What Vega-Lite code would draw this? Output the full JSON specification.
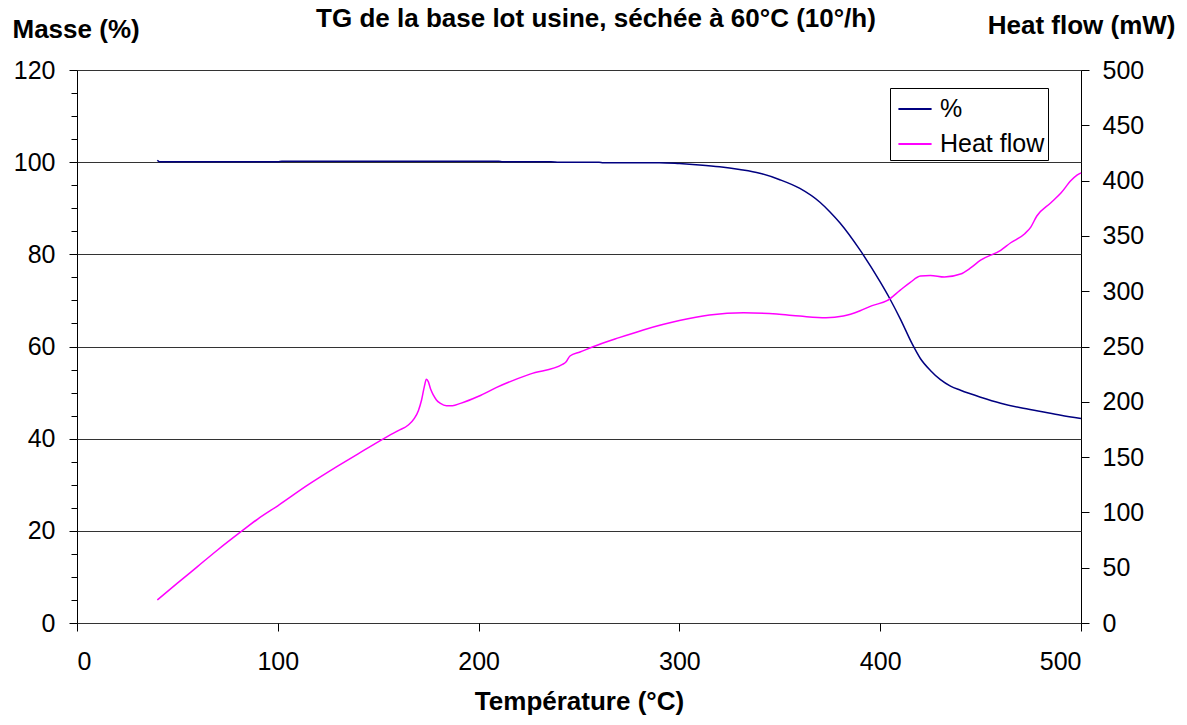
{
  "$schema": "https://vega.github.io/schema/vega-lite/v6.json",
  "width": 1004,
  "height": 553,
  "autosize": "none",
  "padding": {"left": 77, "top": 70, "right": 106, "bottom": 102},
  "background": "white",
  "config": {
    "font": "Liberation Sans",
    "view": {"stroke": "#000", "strokeWidth": 1},
    "axis": {"labelFont": "Liberation Sans", "titleFont": "Liberation Sans", "labelColor": "#000", "titleColor": "#000", "tickColor": "#000", "domainColor": "#000", "labelFontSize": 25, "titleFontSize": 26, "titleFontWeight": "bold"}
  },
  "title": {"text": "TG de la base lot usine, séchée à 60°C (10°/h)", "font": "Liberation Sans", "fontSize": 26, "fontWeight": "bold", "color": "#000", "anchor": "middle", "dx": 17, "dy": 24, "frame": "group"},
  "datasets": {
    "masse": [
      {"T": 40, "v": 100.4}, {"T": 41, "v": 100.1}, {"T": 60, "v": 100.1}, {"T": 100, "v": 100.1}, {"T": 102, "v": 100.2}, {"T": 150, "v": 100.2}, {"T": 210, "v": 100.2}, {"T": 212, "v": 100.1}, {"T": 236, "v": 100.1}, {"T": 240, "v": 100.0}, {"T": 260, "v": 100.0}, {"T": 262, "v": 99.9}, {"T": 290, "v": 99.9}, {"T": 300, "v": 99.7}, {"T": 310, "v": 99.4}, {"T": 320, "v": 99.0}, {"T": 330, "v": 98.4}, {"T": 340, "v": 97.6}, {"T": 350, "v": 96.2}, {"T": 360, "v": 94.3}, {"T": 370, "v": 91.3}, {"T": 375, "v": 89.2}, {"T": 380, "v": 86.8}, {"T": 390, "v": 80.9}, {"T": 400, "v": 74.0}, {"T": 405, "v": 70.2}, {"T": 410, "v": 66.0}, {"T": 416, "v": 60.5}, {"T": 420, "v": 57.4}, {"T": 425, "v": 54.8}, {"T": 430, "v": 52.8}, {"T": 435, "v": 51.4}, {"T": 440, "v": 50.5}, {"T": 450, "v": 49.0}, {"T": 460, "v": 47.7}, {"T": 470, "v": 46.7}, {"T": 480, "v": 45.9}, {"T": 490, "v": 45.1}, {"T": 500, "v": 44.4}
    ],
    "heat": [
      {"T": 40, "v": 20.8}, {"T": 50, "v": 36}, {"T": 60, "v": 51}, {"T": 70, "v": 66}, {"T": 82, "v": 83}, {"T": 90, "v": 94}, {"T": 100, "v": 106}, {"T": 115, "v": 124.8}, {"T": 130, "v": 142}, {"T": 140, "v": 153}, {"T": 153, "v": 167}, {"T": 160, "v": 174}, {"T": 165, "v": 179}, {"T": 168, "v": 185}, {"T": 170, "v": 192}, {"T": 171.6, "v": 201.6}, {"T": 173, "v": 214}, {"T": 174, "v": 220.5}, {"T": 175, "v": 218}, {"T": 176, "v": 212}, {"T": 177.5, "v": 206}, {"T": 179, "v": 201.6}, {"T": 181, "v": 198.5}, {"T": 184, "v": 196.4}, {"T": 187, "v": 196.5}, {"T": 191, "v": 198.6}, {"T": 200, "v": 205}, {"T": 209, "v": 213}, {"T": 225.6, "v": 225}, {"T": 242, "v": 234}, {"T": 243.5, "v": 236}, {"T": 245.5, "v": 241.4}, {"T": 250.5, "v": 245}, {"T": 257, "v": 249.8}, {"T": 270, "v": 258}, {"T": 282, "v": 265}, {"T": 300, "v": 273.5}, {"T": 315, "v": 278.4}, {"T": 332, "v": 280.5}, {"T": 348.5, "v": 279.3}, {"T": 360, "v": 277.5}, {"T": 373, "v": 276}, {"T": 381.6, "v": 277.5}, {"T": 390, "v": 282.3}, {"T": 396, "v": 287}, {"T": 403.4, "v": 291.4}, {"T": 410, "v": 301}, {"T": 415, "v": 308}, {"T": 420, "v": 313.7}, {"T": 425, "v": 314.3}, {"T": 432, "v": 312.8}, {"T": 440, "v": 315.5}, {"T": 445, "v": 321}, {"T": 450, "v": 328}, {"T": 460, "v": 337}, {"T": 465, "v": 343.8}, {"T": 472, "v": 352}, {"T": 475, "v": 358}, {"T": 478, "v": 368}, {"T": 485, "v": 380}, {"T": 490, "v": 388.7}, {"T": 495, "v": 400}, {"T": 498, "v": 405}, {"T": 500, "v": 407}
    ]
  },
  "encoding": {
    "x": {"field": "T", "type": "quantitative", "scale": {"domain": [0, 500], "nice": false, "zero": false},
      "axis": {"title": "Température (°C)", "values": [0, 100, 200, 300, 400, 500], "domain": false, "grid": false, "tickSize": 8, "labelPadding": 18, "titlePadding": 14, "labelOverlap": false}}
  },
  "layer": [
    {
      "data": {"name": "masse"},
      "mark": {"type": "line", "strokeWidth": 1.5, "interpolate": "monotone"},
      "encoding": {
        "y": {"field": "v", "type": "quantitative", "scale": {"domain": [0, 120], "nice": false},
          "axis": {"title": "Masse (%)", "orient": "left", "values": [0,5,10,15,20,25,30,35,40,45,50,55,60,65,70,75,80,85,90,95,100,105,110,115,120],
            "labelExpr": "datum.value % 20 === 0 ? datum.label : ''", "labelOverlap": false, "domain": false,
            "tickSize": {"condition": {"test": "datum.value % 20 === 0", "value": 8}, "value": 6},
            "labelPadding": 14, "grid": true, "gridWidth": 1,
            "gridColor": {"condition": {"test": "datum.value % 20 === 0", "value": "#333333"}, "value": "transparent"},
            "titleAngle": 0, "titleAlign": "left", "titleBaseline": "alphabetic", "titleX": -65, "titleY": -33}},
        "color": {"datum": "%", "type": "nominal", "scale": {"domain": ["%", "Heat flow"], "range": ["#000080", "#FF00FF"]},
          "legend": {"title": null, "orient": "none", "legendX": 813, "legendY": 18, "strokeColor": "#000", "fillColor": "white", "padding": 3, "symbolOffset": 4, "symbolType": "stroke", "symbolSize": 1100, "symbolStrokeWidth": 2, "labelFont": "Liberation Sans", "labelFontSize": 25, "labelColor": "#000", "rowPadding": 4, "labelOffset": 7, "cornerRadius": 0}}
      }
    },
    {
      "data": {"name": "heat"},
      "mark": {"type": "line", "strokeWidth": 1.5, "interpolate": "monotone"},
      "encoding": {
        "y": {"field": "v", "type": "quantitative", "scale": {"domain": [0, 500], "nice": false},
          "axis": {"title": "Heat flow (mW)", "orient": "right", "values": [0,50,100,150,200,250,300,350,400,450,500], "labelOverlap": false, "domain": false, "grid": false,
            "tickSize": 8, "labelPadding": 13,
            "titleAngle": 0, "titleAlign": "right", "titleBaseline": "alphabetic", "titleX": 94, "titleY": -37}},
        "color": {"datum": "Heat flow", "type": "nominal"}
      }
    }
  ],
  "resolve": {"scale": {"y": "independent"}}
}
